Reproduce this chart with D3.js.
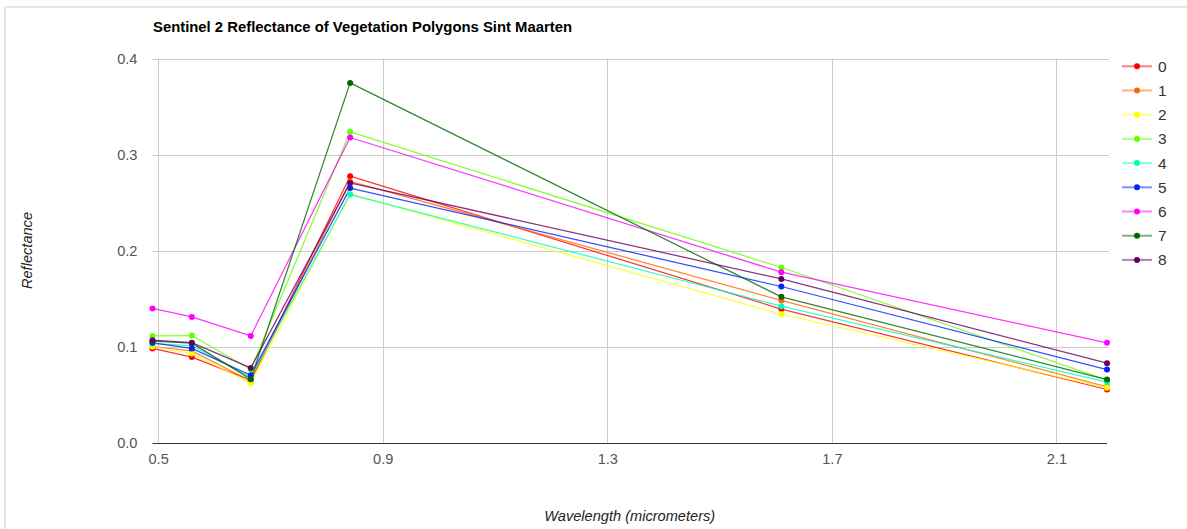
<!DOCTYPE html>
<html>
<head>
<meta charset="utf-8">
<script src="https://cdn.jsdelivr.net/npm/d3@7"></script>
<style>
  html, body { margin: 0; padding: 0; background: #fff; }
  svg { display: block; font-family: "Liberation Sans", Arial, sans-serif; }
</style>
</head>
<body>
<svg id="chart" width="1187" height="529"></svg>
<script>
// Sentinel-2 band centre wavelengths (micrometers)
const wavelengths = [0.49, 0.56, 0.665, 0.842, 1.61, 2.19];

// Mean reflectance per vegetation class
const series0 = [0.098, 0.089, 0.065, 0.2774, 0.139, 0.0552];
const series1 = [0.100, 0.0955, 0.064, 0.272, 0.148, 0.058];
const series2 = [0.100, 0.0927, 0.062, 0.259, 0.1336, 0.057];
const series3 = [0.111, 0.1114, 0.076, 0.3236, 0.1823, 0.065];
const series4 = [0.103, 0.101, 0.068, 0.2583, 0.142, 0.063];
const series5 = [0.1038, 0.098, 0.070, 0.265, 0.1625, 0.076];
const series6 = [0.1396, 0.1308, 0.111, 0.3177, 0.1774, 0.1038];
const series7 = [0.1055, 0.1035, 0.066, 0.3746, 0.1517, 0.0656];
const series8 = [0.1066, 0.104, 0.0777, 0.2704, 0.1704, 0.0826];

const seriesNames = ["0", "1", "2", "3", "4", "5", "6", "7", "8"];
const seriesColors = ["#ff0000", "#ff6600", "#ffff00", "#66ff00", "#00ffbb",
                      "#0022ff", "#ff00ff", "#006600", "#660066"];

const xTicks = [0.5, 0.9, 1.3, 1.7, 2.1];
const yTicks = [0.0, 0.1, 0.2, 0.3, 0.4];

const title = "Sentinel 2 Reflectance of Vegetation Polygons Sint Maarten";
const xTitle = "Wavelength (micrometers)";
const yTitle = "Reflectance";

const allSeries = [series0, series1, series2, series3, series4,
                   series5, series6, series7, series8];

const svg = d3.select("#chart");
const FS = 14.6;

// card frame
svg.append("rect")
  .attr("x", 5).attr("y", 7)
  .attr("width", 1200).attr("height", 540)
  .attr("rx", 2)
  .attr("fill", "#fff")
  .attr("stroke", "#e6e6e6")
  .attr("stroke-width", 2);

const plot = { left: 152.5, right: 1107, top: 58.5, bottom: 442.5 };

const x = d3.scaleLinear()
  .domain([d3.min(wavelengths), d3.max(wavelengths)])
  .range([plot.left, plot.right]);
const y = d3.scaleLinear()
  .domain([0, 0.4])
  .range([plot.bottom, plot.top]);

// gridlines
const grid = svg.append("g");
grid.selectAll("line.h")
  .data(yTicks.filter(d => d > 0))
  .join("line")
  .attr("x1", plot.left).attr("x2", plot.right + 2)
  .attr("y1", d => Math.round(y(d)) + 0.5)
  .attr("y2", d => Math.round(y(d)) + 0.5)
  .attr("stroke", "#cccccc").attr("stroke-width", 1);
grid.selectAll("line.v")
  .data(xTicks)
  .join("line")
  .attr("x1", d => Math.round(x(d)) + 0.5)
  .attr("x2", d => Math.round(x(d)) + 0.5)
  .attr("y1", plot.top).attr("y2", plot.bottom)
  .attr("stroke", "#cccccc").attr("stroke-width", 1);

// y axis labels
const yAxis = d3.axisLeft(y).tickValues(yTicks).tickFormat(d3.format(".1f")).tickSize(0).tickPadding(0);
const yg = svg.append("g")
  .attr("transform", `translate(${plot.left - 15},0)`)
  .call(yAxis);
yg.select(".domain").remove();
yg.selectAll("text")
  .attr("font-family", "Liberation Sans, Arial, sans-serif")
  .attr("font-size", FS)
  .attr("fill", "#555");

// x axis labels
const xAxis = d3.axisBottom(x).tickValues(xTicks).tickFormat(d3.format(".1f")).tickSize(0).tickPadding(0);
const xg = svg.append("g")
  .attr("transform", `translate(0,${plot.bottom + 11})`)
  .call(xAxis);
xg.select(".domain").remove();
xg.selectAll("text")
  .attr("font-family", "Liberation Sans, Arial, sans-serif")
  .attr("font-size", FS)
  .attr("fill", "#555");

// baseline
svg.append("line")
  .attr("x1", plot.left).attr("x2", plot.right)
  .attr("y1", Math.round(y(0)) + 0.5).attr("y2", Math.round(y(0)) + 0.5)
  .attr("stroke", "#333").attr("stroke-width", 1);

// series lines
const line = d3.line()
  .x((d, i) => x(wavelengths[i]))
  .y(d => y(d));

const lines = svg.append("g");
allSeries.forEach((s, k) => {
  lines.append("path")
    .datum(s)
    .attr("d", line)
    .attr("fill", "none")
    .attr("stroke", seriesColors[k])
    .attr("stroke-opacity", 0.8)
    .attr("stroke-width", 1.25)
    .attr("stroke-linejoin", "round");
});

// series points
const pts = svg.append("g");
allSeries.forEach((s, k) => {
  pts.selectAll(null)
    .data(s)
    .join("circle")
    .attr("cx", (d, i) => x(wavelengths[i]))
    .attr("cy", d => y(d))
    .attr("r", 3)
    .attr("fill", seriesColors[k]);
});

// title
svg.append("text")
  .attr("x", 153).attr("y", 32)
  .attr("font-size", 14.85)
  .attr("font-weight", "bold")
  .attr("fill", "#000")
  .text(title);

// axis titles
svg.append("text")
  .attr("x", (plot.left + plot.right) / 2)
  .attr("y", 521)
  .attr("text-anchor", "middle")
  .attr("font-size", FS)
  .attr("font-style", "italic")
  .attr("fill", "#222")
  .text(xTitle);

svg.append("text")
  .attr("transform", `translate(32,${(plot.top + plot.bottom) / 2}) rotate(-90)`)
  .attr("text-anchor", "middle")
  .attr("font-size", FS)
  .attr("font-style", "italic")
  .attr("fill", "#222")
  .text(yTitle);

// legend
const legend = svg.append("g");
const rowY = d3.scaleLinear().domain([0, 1]).range([66.3, 90.5]);
seriesNames.forEach((name, k) => {
  const g = legend.append("g").attr("transform", `translate(0,${rowY(k)})`);
  g.append("line")
    .attr("x1", 1122).attr("x2", 1152)
    .attr("y1", 0).attr("y2", 0)
    .attr("stroke", seriesColors[k])
    .attr("stroke-opacity", 0.5)
    .attr("stroke-width", 2);
  g.append("circle")
    .attr("cx", 1137).attr("cy", 0).attr("r", 3)
    .attr("fill", seriesColors[k]);
  g.append("text")
    .attr("x", 1158).attr("y", 0)
    .attr("dy", "0.36em")
    .attr("font-size", 15.5)
    .attr("fill", "#333")
    .text(name);
});
</script>
</body>
</html>
